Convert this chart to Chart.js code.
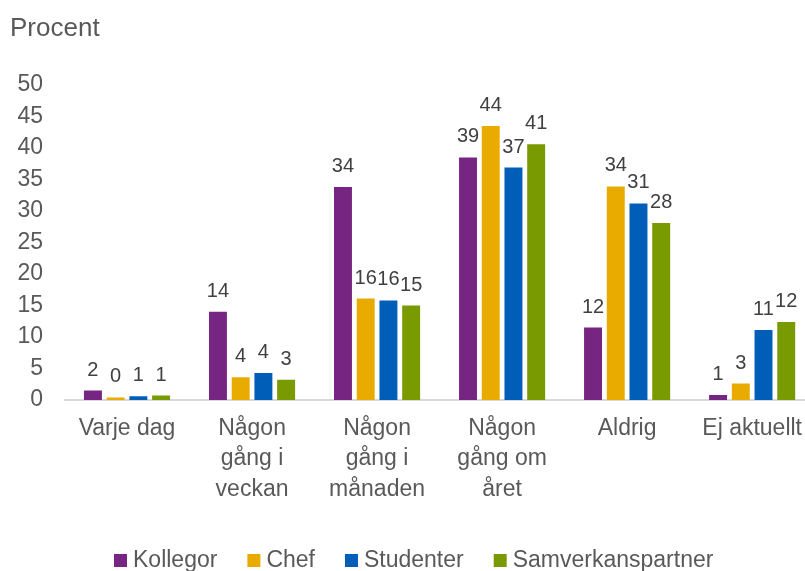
<!DOCTYPE html>
<html lang="sv">
  <head>
    <meta charset="UTF-8" />
    <title>Procent</title>
    <style>
      body {
        margin: 0;
        background: #fff;
        overflow: hidden;
      }
      #wrap {
        width: 815px;
        height: 571px;
      }
    </style>
  </head>
  <body>
    <div id="wrap"><canvas id="myChart"></canvas></div>
    <script src="https://cdn.jsdelivr.net/npm/chart.js@4/dist/chart.umd.min.js"></script>
    <script>
      const categories = [
        "Varje dag",
        ["Någon", "gång i", "veckan"],
        ["Någon", "gång i", "månaden"],
        ["Någon", "gång om", "året"],
        "Aldrig",
        "Ej aktuellt",
      ];
      const series_names = ["Kollegor", "Chef", "Studenter", "Samverkanspartner"];
      const kollegor = [1.5, 14.0, 33.8, 38.5, 11.5, 0.8];
      const chef = [0.4, 3.6, 16.1, 43.5, 33.9, 2.6];
      const studenter = [0.6, 4.3, 15.8, 36.9, 31.2, 11.1];
      const samverkan = [0.7, 3.2, 15.0, 40.6, 28.1, 12.4];
      // labels as printed on the chart (rounded)
      const kollegor_lbl = ["2", "14", "34", "39", "12", "1"];
      const chef_lbl = ["0", "4", "16", "44", "34", "3"];
      const studenter_lbl = ["1", "4", "16", "37", "31", "11"];
      const samverkan_lbl = ["1", "3", "15", "41", "28", "12"];
      const y_min = 0, y_max = 50, y_step = 5;

      const colors = ["#772583", "#EAAB00", "#005EB8", "#7A9A01"];
      const font = '"Liberation Sans", Arial, sans-serif';
      const values = [kollegor, chef, studenter, samverkan];
      const value_labels = [kollegor_lbl, chef_lbl, studenter_lbl, samverkan_lbl];

      const extras = {
        id: "extras",
        afterDatasetsDraw(chart) {
          const ctx = chart.ctx;
          ctx.save();
          // value labels
          ctx.font = `20px ${font}`;
          ctx.fillStyle = "#404040";
          ctx.textAlign = "center";
          ctx.textBaseline = "alphabetic";
          chart.data.datasets.forEach((ds, di) => {
            chart.getDatasetMeta(di).data.forEach((bar, i) => {
              ctx.fillText(value_labels[di][i], bar.x, bar.y - 15);
            });
          });
          // axis title
          ctx.font = `26px ${font}`;
          ctx.fillStyle = "#595959";
          ctx.textAlign = "left";
          ctx.fillText("Procent", 10, 36);
          // legend
          ctx.font = `23px ${font}`;
          ctx.textBaseline = "middle";
          let x = 114;
          const y = 560;
          series_names.forEach((name, i) => {
            ctx.fillStyle = colors[i];
            ctx.fillRect(x, y - 6, 13, 13);
            ctx.fillStyle = "#595959";
            ctx.fillText(name, x + 19, y + 1);
            x += 19 + ctx.measureText(name).width + 30;
          });
          ctx.restore();
        },
      };

      const ctx = document.getElementById("myChart").getContext("2d");
      const chart = new Chart(ctx, {
        type: "bar",
        data: {
          labels: categories,
          datasets: series_names.map((name, i) => ({
            label: name,
            data: values[i],
            backgroundColor: colors[i],
            borderWidth: 0,
            categoryPercentage: 0.727,
            barPercentage: 0.79,
          })),
        },
        options: {
          responsive: true,
          maintainAspectRatio: false,
          animation: false,
          layout: { padding: { top: 85, right: 0, bottom: 0, left: 0 } },
          plugins: {
            legend: { display: false },
            tooltip: { enabled: false },
          },
          scales: {
            x: {
              grid: { display: false, drawTicks: false },
              border: { display: true, color: "#D9D9D9", width: 2 },
              ticks: {
                color: "#595959",
                font: { family: font, size: 23, lineHeight: 1.33 },
                padding: 13,
                maxRotation: 0,
                autoSkip: false,
              },
              afterFit: scale => {
                scale.height = 171;
              },
            },
            y: {
              min: y_min,
              max: y_max,
              grid: { display: false, drawTicks: false },
              border: { display: false },
              ticks: {
                stepSize: y_step,
                color: "#595959",
                font: { family: font, size: 23 },
                padding: 21.5,
              },
              afterFit: scale => {
                scale.width = 64.5;
              },
            },
          },
        },
        plugins: [extras],
      });
    </script>
  </body>
</html>
